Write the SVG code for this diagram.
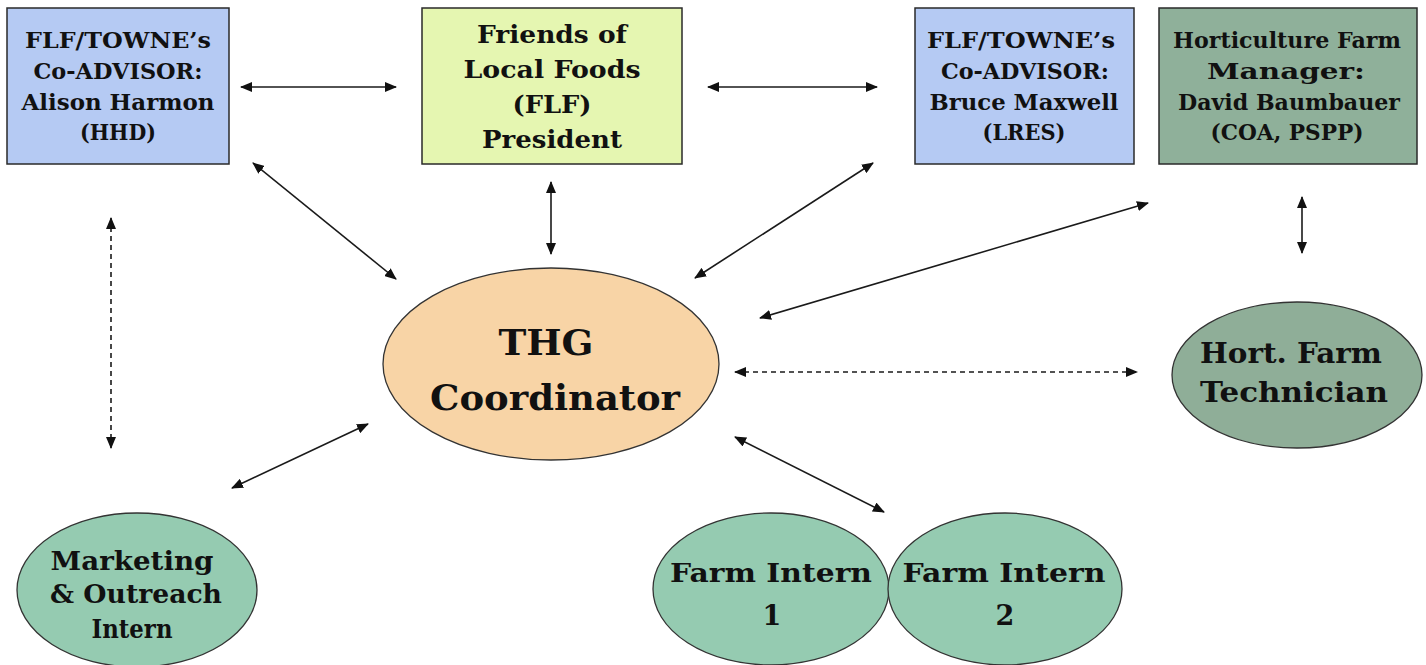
<svg xmlns="http://www.w3.org/2000/svg" width="1426" height="665" viewBox="0 0 1426 665">
<defs>
<marker id="ah" viewBox="0 0 12 10" markerWidth="12" markerHeight="10" refX="11" refY="5" orient="auto-start-reverse" markerUnits="userSpaceOnUse">
<path d="M0,0 L12,5 L0,10 z" fill="#111"/>
</marker>
<style>
.box{stroke:#2a2a2a;stroke-width:1.5}
.ell{stroke:#333;stroke-width:1.3}
.t{font-family:"DejaVu Serif","Liberation Serif",serif;font-weight:bold;fill:#111;text-anchor:middle}
.c{stroke:#1a1a1a;stroke-width:1.6;fill:none;marker-start:url(#ah);marker-end:url(#ah)}
.d{stroke-dasharray:5,4}
</style>
</defs>
<rect width="1426" height="665" fill="#ffffff"/>
<g id="connectors">
<line class="c" x1="241" y1="87" x2="396" y2="87"/>
<line class="c" x1="708" y1="87" x2="877" y2="87"/>
<line class="c" x1="253" y1="163" x2="396" y2="279"/>
<line class="c" x1="551" y1="182" x2="551" y2="254"/>
<line class="c" x1="873" y1="163" x2="695" y2="278"/>
<line class="c" x1="1148" y1="203" x2="760" y2="318"/>
<line class="c" x1="1302" y1="197" x2="1302" y2="253"/>
<line class="c d" x1="735" y1="372" x2="1137" y2="372"/>
<line class="c d" x1="111" y1="218" x2="111" y2="448"/>
<line class="c" x1="232" y1="488" x2="368" y2="424"/>
<line class="c" x1="735" y1="437" x2="884" y2="512"/>
</g>
<g id="alison">
<rect class="box" x="7" y="8" width="222" height="156" fill="#b5caf3"/>
<text class="t" font-size="22" x="118" y="48" textLength="186" lengthAdjust="spacingAndGlyphs">FLF/TOWNE’s</text>
<text class="t" font-size="22" x="118" y="79" textLength="169" lengthAdjust="spacingAndGlyphs">Co-ADVISOR:</text>
<text class="t" font-size="22" x="118" y="110" textLength="193" lengthAdjust="spacingAndGlyphs">Alison Harmon</text>
<text class="t" font-size="22" x="118" y="140" textLength="76" lengthAdjust="spacingAndGlyphs">(HHD)</text>
</g>
<g id="flf">
<rect class="box" x="422" y="8" width="260" height="156" fill="#e5f6b1"/>
<text class="t" font-size="25" x="552" y="43" textLength="150" lengthAdjust="spacingAndGlyphs">Friends of</text>
<text class="t" font-size="25" x="552" y="78" textLength="177" lengthAdjust="spacingAndGlyphs">Local Foods</text>
<text class="t" font-size="25" x="552" y="113" textLength="79" lengthAdjust="spacingAndGlyphs">(FLF)</text>
<text class="t" font-size="25" x="552" y="148" textLength="140" lengthAdjust="spacingAndGlyphs">President</text>
</g>
<g id="bruce">
<rect class="box" x="915" y="8" width="219" height="156" fill="#b5caf3"/>
<text class="t" font-size="22" x="1021" y="48" textLength="188" lengthAdjust="spacingAndGlyphs">FLF/TOWNE’s</text>
<text class="t" font-size="22" x="1025" y="79" textLength="168" lengthAdjust="spacingAndGlyphs">Co-ADVISOR:</text>
<text class="t" font-size="22" x="1024" y="110" textLength="189" lengthAdjust="spacingAndGlyphs">Bruce Maxwell</text>
<text class="t" font-size="22" x="1024" y="140" textLength="83" lengthAdjust="spacingAndGlyphs">(LRES)</text>
</g>
<g id="hortmgr">
<rect class="box" x="1159" y="8" width="258" height="156" fill="#8fb09a"/>
<text class="t" font-size="22" x="1287" y="48" textLength="228" lengthAdjust="spacingAndGlyphs">Horticulture Farm</text>
<text class="t" font-size="22" x="1286" y="79" textLength="158" lengthAdjust="spacingAndGlyphs">Manager:</text>
<text class="t" font-size="22" x="1289" y="110" textLength="222" lengthAdjust="spacingAndGlyphs">David Baumbauer</text>
<text class="t" font-size="22" x="1287" y="140" textLength="153" lengthAdjust="spacingAndGlyphs">(COA, PSPP)</text>
</g>
<g id="thg">
<ellipse class="ell" cx="551" cy="364" rx="168" ry="96" fill="#f8d4a6"/>
<text class="t" font-size="36" x="546" y="355" textLength="95" lengthAdjust="spacingAndGlyphs">THG</text>
<text class="t" font-size="36" x="555" y="410" textLength="250" lengthAdjust="spacingAndGlyphs">Coordinator</text>
</g>
<g id="tech">
<ellipse class="ell" cx="1297" cy="375" rx="125" ry="73" fill="#8fae98"/>
<text class="t" font-size="28" x="1291" y="363" textLength="182" lengthAdjust="spacingAndGlyphs">Hort. Farm</text>
<text class="t" font-size="28" x="1294" y="402" textLength="188" lengthAdjust="spacingAndGlyphs">Technician</text>
</g>
<g id="marketing">
<ellipse class="ell" cx="137" cy="590" rx="120" ry="77" fill="#95cbb1"/>
<text class="t" font-size="26" x="132" y="570" textLength="163" lengthAdjust="spacingAndGlyphs">Marketing</text>
<text class="t" font-size="26" x="136" y="603" textLength="172" lengthAdjust="spacingAndGlyphs">&amp; Outreach</text>
<text class="t" font-size="26" x="132" y="638" textLength="81" lengthAdjust="spacingAndGlyphs">Intern</text>
</g>
<g id="intern1">
<ellipse class="ell" cx="771" cy="589" rx="118" ry="76" fill="#95cbb1"/>
<text class="t" font-size="26" x="771" y="582" textLength="202" lengthAdjust="spacingAndGlyphs">Farm Intern</text>
<text class="t" font-size="27" x="772" y="625">1</text>
</g>
<g id="intern2">
<ellipse class="ell" cx="1005" cy="589" rx="117" ry="76" fill="#95cbb1"/>
<text class="t" font-size="26" x="1004" y="582" textLength="203" lengthAdjust="spacingAndGlyphs">Farm Intern</text>
<text class="t" font-size="27" x="1005" y="625">2</text>
</g>
</svg>
